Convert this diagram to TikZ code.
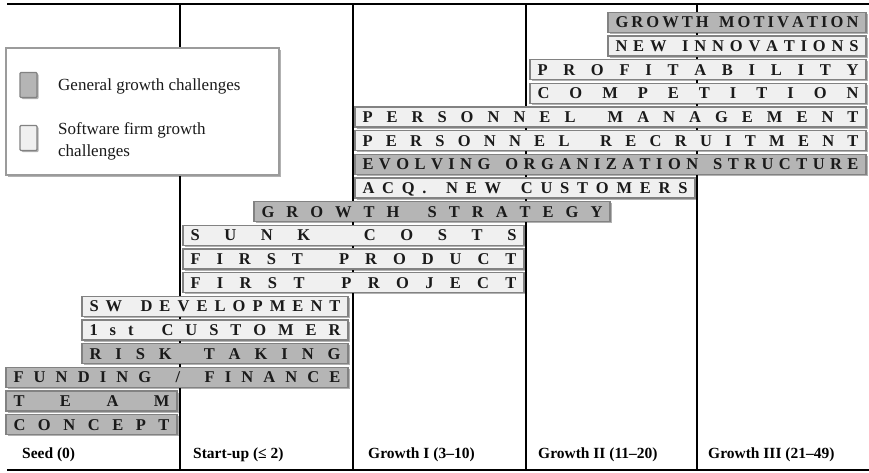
\documentclass[tikz,border=0pt]{standalone}
\usepackage{fontspec}
\setmainfont{Liberation Serif}
\usetikzlibrary{shadows}
\definecolor{gen}{HTML}{B5B5B5}
\definecolor{swf}{HTML}{F0F0F0}
\definecolor{bord}{HTML}{828282}
\definecolor{txt}{HTML}{1A1A1A}
\def\spr#1{\sprA#1\relax}
\def\sprA#1{#1\sprB}
\def\sprB#1{\ifx#1\relax\else\hfill#1\expandafter\sprB\fi}
\tikzset{
  rule/.style={line width=2.6pt, black},
  chbox/.style={draw=bord, line width=1.4pt, minimum height=20pt, inner sep=0pt,
    text=txt, font=\fontsize{16.5}{16.5}\selectfont\bfseries, text height=11pt, text depth=0pt,
    drop shadow={shadow xshift=1.6pt, shadow yshift=-1.6pt, fill=black, opacity=0.3}},
  legbox/.style={draw=bord!80, line width=1.4pt, fill=white,
    drop shadow={shadow xshift=1.6pt, shadow yshift=-1.6pt, fill=black, opacity=0.3}},
  swatch/.style={draw=bord, line width=1.4pt, rounded corners=1pt, minimum width=17pt, minimum height=25pt,
    drop shadow={shadow xshift=1.6pt, shadow yshift=-1.6pt, fill=black, opacity=0.3}},
  legtext/.style={inner sep=0pt, anchor=west, align=left, text=txt, font=\fontsize{17}{22}\selectfont},
  phase/.style={inner sep=0pt, anchor=west, text=black, font=\fontsize{15.5}{16}\selectfont\bfseries}
}
\newcommand\chb[6]{%
  \node[chbox, fill=#2, minimum width={(#4-#3)*1pt}] (#1) at ({(#3+#4)/2}, {22.5+23.65*#5})
    {\hbox to \dimexpr #4pt-#3pt-15pt\relax{\spr{#6}}};}
\begin{document}
\begin{tikzpicture}[x=1pt, y=-1pt]
\useasboundingbox (0,0) rectangle (869,473);
% frame lines
\coordinate (tl) at (7,4); \coordinate (tr) at (869,4);
\coordinate (bl) at (7,470); \coordinate (br) at (869,470);
\coordinate (v1t) at (180,4); \coordinate (v1b) at (180,470);
\coordinate (v2t) at (353,4); \coordinate (v2b) at (353,470);
\coordinate (v3t) at (526,4); \coordinate (v3b) at (526,470);
\coordinate (v4t) at (697,4); \coordinate (v4b) at (697,470);
\draw[rule] (v1t) -- (v1b);
\draw[rule] (v2t) -- (v2b);
\draw[rule] (v3t) -- (v3b);
\draw[rule] (v4t) -- (v4b);
\draw[rule] (tl) -- (tr);
\draw[rule] (bl) -- (br);
% legend
\node[legbox, minimum width=273pt, minimum height=127pt] (leg) at (142.5,111.5) {};
\node[swatch, fill=gen] (sw1) at (28.5,85) {};
\node[swatch, fill=swf] (sw2) at (28.5,138) {};
\node[legtext] (lt1) at (58,86) {General growth challenges};
\node[legtext] (lt2) at (58,141) {Software firm growth\\challenges};
% challenge bars
\chb{r0}{gen}{608}{866}{0}{GROWTH~MOTIVATION}
\chb{r1}{swf}{608}{866}{1}{NEW~INNOVATIONS}
\chb{r2}{swf}{530}{866}{2}{PROFITABILITY}
\chb{r3}{swf}{530}{866}{3}{COMPETITION}
\chb{r4}{swf}{355}{866}{4}{PERSONNEL~MANAGEMENT}
\chb{r5}{swf}{355}{866}{5}{PERSONNEL~RECRUITMENT}
\chb{r6}{gen}{355}{866}{6}{EVOLVING~ORGANIZATION~STRUCTURE}
\chb{r7}{swf}{355}{695}{7}{ACQ.~NEW~CUSTOMERS}
\chb{r8}{gen}{254}{610}{8}{GROWTH~STRATEGY}
\chb{r9}{swf}{183}{524}{9}{SUNK~COSTS}
\chb{r10}{swf}{183}{524}{10}{FIRST~PRODUCT}
\chb{r11}{swf}{183}{524}{11}{FIRST~PROJECT}
\chb{r12}{swf}{82}{348}{12}{SW~DEVELOPMENT}
\chb{r13}{swf}{82}{348}{13}{1st~CUSTOMER}
\chb{r14}{gen}{82}{348}{14}{RISK~TAKING}
\chb{r15}{gen}{6}{348}{15}{FUNDING~/~FINANCE}
\chb{r16}{gen}{6}{177}{16}{TEAM}
\chb{r17}{gen}{6}{177}{17}{CONCEPT}
% phase labels
\node[phase] (p0) at (22,455) {Seed (0)};
\node[phase] (p1) at (193,455) {Start-up (≤ 2)};
\node[phase] (p2) at (368,455) {Growth I (3–10)};
\node[phase] (p3) at (538,455) {Growth II (11–20)};
\node[phase] (p4) at (708,455) {Growth III (21–49)};
\end{tikzpicture}
\end{document}
